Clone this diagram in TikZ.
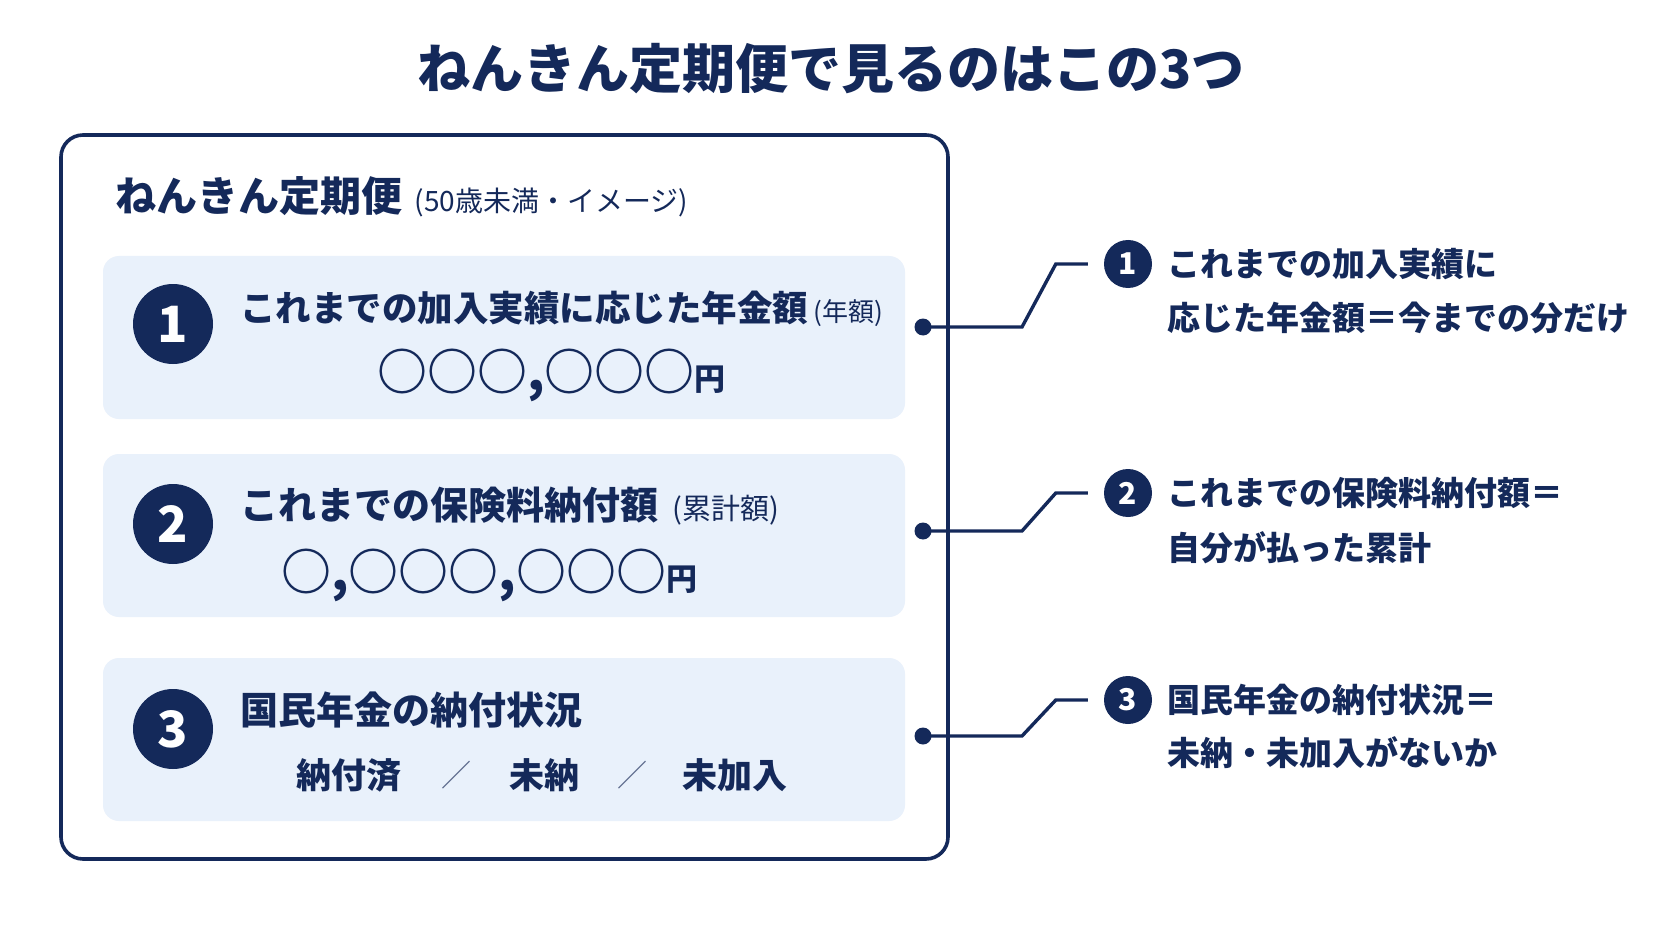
\documentclass[tikz,border=0pt]{standalone}
\usepackage{fontspec}
\setmainfont{Noto Sans CJK JP}
\usetikzlibrary{calc, positioning}

\definecolor{navy}{HTML}{14295A}
\definecolor{panelblue}{HTML}{E9F1FB}

\newcommand{\fs}[1]{\fontsize{#1}{#1}\selectfont}

\tikzset{
	panel/.style={fill=panelblue, rounded corners=16pt},
	numdisc/.style={circle, fill=navy, text=white, minimum size=80pt, inner sep=0pt, font=\fs{50}\bfseries},
	smalldisc/.style={circle, fill=navy, text=white, minimum size=48pt, inner sep=0pt, font=\fs{30}\bfseries},
	dotend/.style={circle, fill=navy, minimum size=17pt, inner sep=0pt},
	link/.style={navy, line width=3.4pt},
	headtext/.style={anchor=west, text=navy, font=\fs{36}\bfseries, inner sep=0pt},
	notetext/.style={text=navy, font=\fs{28}, inner sep=0pt},
	sidetext/.style={anchor=west, text=navy, font=\fs{33}\bfseries, inner sep=0pt}
}

\begin{document}
\begin{tikzpicture}[x=1pt, y=-1pt]
		% Canvas
		\fill[white] (0,0) rectangle (1672,941);
		\useasboundingbox (0,0) rectangle (1672,941);
		
		% Title
		\node[text=navy, font=\fs{53}\bfseries] (title) at (831,69) {ねんきん定期便で見るのはこの3つ};
		
		% Letter frame
		\draw[navy, line width=3.6pt, rounded corners=22pt] (61,135) rectangle (948,859);
		\node[headtext, font=\fs{41}\bfseries] (boxhead) at (115,196) {ねんきん定期便};
		\node[notetext, base right=12pt of boxhead] (boxsub) {(50歳未満・イメージ)};
		
		% Panels
		\fill[panel] (103,256) rectangle (905,419);
		\fill[panel] (103,454) rectangle (905,617);
		\fill[panel] (103,658) rectangle (905,821);
		
		\node[numdisc] (n1) at (173,324) {1};
		\node[numdisc] (n2) at (173,524) {2};
		\node[numdisc] (n3) at (173,729) {3};
		
		% Panel 1
		\node[headtext, font=\fs{35.5}\bfseries] (p1title) at (240,308) {これまでの加入実績に応じた年金額};
		\node[notetext, font=\fs{26}, base right=5pt of p1title] (p1note) {(年額)};
		\node[anchor=west, text=navy, inner sep=0pt] (p1amt) at (377,375) {\fs{50}\bfseries ○○○,○○○\fs{31}円};
		
		% Panel 2
		\node[headtext, font=\fs{38}\bfseries] (p2title) at (240,505) {これまでの保険料納付額};
		\node[notetext, font=\fs{29}, base right=14pt of p2title] (p2note) {(累計額)};
		\node[anchor=west, text=navy, inner sep=0pt] (p2amt) at (281,575) {\fs{50}\bfseries ○,○○○,○○○\fs{31}円};
		
		% Panel 3
		\node[headtext, font=\fs{38}\bfseries] (p3title) at (240,710) {国民年金の納付状況};
		\node[headtext, font=\fs{35}\bfseries] (st1) at (296,775) {納付済};
		\node[text=navy!70, font=\fs{30}] (sl1) at (456,775) {／};
		\node[headtext, font=\fs{35}\bfseries] (st2) at (509,775) {未納};
		\node[text=navy!70, font=\fs{30}] (sl2) at (632,775) {／};
		\node[headtext, font=\fs{35}\bfseries] (st3) at (682,775) {未加入};
		
		% Call-outs
		\node[dotend] (dot1) at (923,327) {};
		\node[dotend] (dot2) at (923,531) {};
		\node[dotend] (dot3) at (923,736) {};
		
		\node[smalldisc] (rc1) at (1128,264) {1};
		\node[smalldisc] (rc2) at (1128,493) {2};
		\node[smalldisc] (rc3) at (1128,700) {3};
		
		\node[sidetext] (rt1a) at (1167,264) {これまでの加入実績に};
		\node[sidetext] (rt1b) at (1167,318) {応じた年金額＝今までの分だけ};
		\node[sidetext] (rt2a) at (1167,493) {これまでの保険料納付額＝};
		\node[sidetext] (rt2b) at (1167,548) {自分が払った累計};
		\node[sidetext] (rt3a) at (1167,700) {国民年金の納付状況＝};
		\node[sidetext] (rt3b) at (1167,753) {未納・未加入がないか};
		
		\foreach \i in {1,2,3} {
			\draw[link] (dot\i.center) -- ($(dot\i.center)+(99,0)$) -- ($(rc\i.west)+(-48,0)$) -- ($(rc\i.west)+(-16,0)$);
		}
	\end{tikzpicture}
\end{document}
